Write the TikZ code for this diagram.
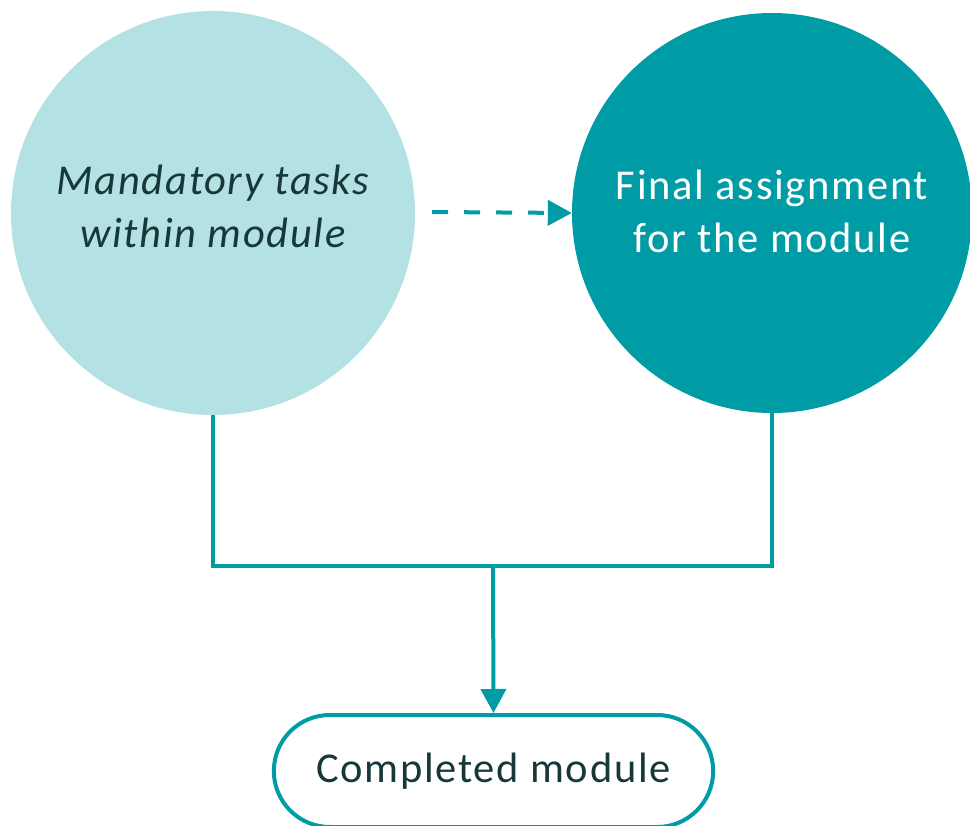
\documentclass[tikz,border=0pt]{standalone}
\usepackage{fontspec}
\setmainfont{Carlito}[LetterSpace=4]
\usetikzlibrary{arrows.meta,shapes.misc}
\definecolor{lightc}{HTML}{B3E1E4}
\definecolor{teal}{HTML}{009CA6}
\definecolor{txt}{HTML}{173838}
\begin{document}
\begin{tikzpicture}[x=1pt,y=-1pt,
  circ/.style={circle,minimum size=404pt,inner sep=0pt,align=center,font=\fontsize{42.5}{53}\selectfont},
  conn/.style={draw=teal,line width=4pt},
  tip/.style={-{Triangle[length=24pt,width=25pt]}}]
\useasboundingbox (0,0) rectangle (970,826);
\node[circ,fill=lightc,text=txt,font=\fontsize{42.5}{53}\selectfont\itshape] (a) at (213,213) {};
\node[text=txt,font=\fontsize{42.5}{53}\selectfont\itshape,align=center] (at) at (213,206) {Mandatory tasks\\within module};
\node[circ,fill=teal,text=white,minimum size=400pt] (b) at (772,213) {};
\node[text=white,font=\fontsize{42.5}{53}\selectfont,align=center] (bt) at (772,211) {Final assignment\\for the module};
\node[rounded rectangle,draw=teal,line width=4pt,minimum width=446pt,minimum height=112pt,text=txt,font=\fontsize{42.5}{53}\selectfont] (c) at (493.5,771) {Completed module};
\coordinate (j) at (493,566);
\draw[conn] (a.south) |- (j) -| (b.south);
\draw[conn,tip] (j) -- (c.north);
\draw[draw=teal,line width=4pt,dash pattern=on 16pt off 16pt,-{Triangle[length=24pt,width=25pt]}] (432,212) -- (b.west);
\end{tikzpicture}
\end{document}
